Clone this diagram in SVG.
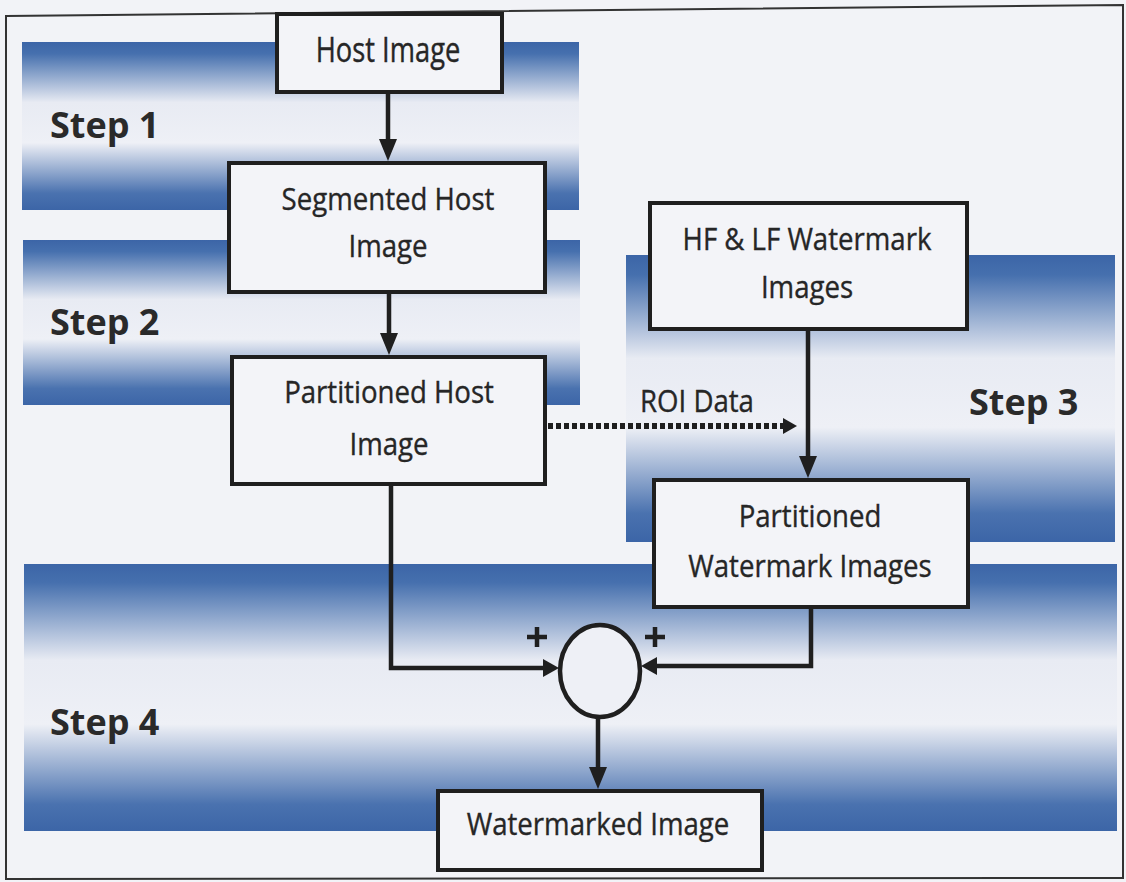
<svg xmlns="http://www.w3.org/2000/svg" width="1126" height="882" viewBox="0 0 1126 882">
  <style>
    .box { fill: #f3f4f8; stroke: #1f1f1f; stroke-width: 4; }
    .lbl { font-family: "Open Sans", "Liberation Sans", sans-serif; font-size: 30px; font-weight: 500; fill: #262626; stroke: #262626; stroke-width: 0.35; text-anchor: middle; }
    .step { font-family: "Open Sans", "Liberation Sans", sans-serif; font-size: 36px; font-weight: 700; fill: #2a2a2a; }
    .wire { fill: none; stroke: #1f1f1f; stroke-width: 4.5; }
    .dots { fill: none; stroke: #1f1f1f; stroke-width: 6; stroke-dasharray: 5 3; }
  </style>
  <defs>
    <linearGradient id="band" x1="0" y1="0" x2="0" y2="1">
      <stop offset="0" stop-color="#3c65a7"/>
      <stop offset="0.07" stop-color="#4670ae"/>
      <stop offset="0.36" stop-color="#e8ebf3"/>
      <stop offset="0.6" stop-color="#eef0f6"/>
      <stop offset="0.9" stop-color="#4a72af"/>
      <stop offset="1" stop-color="#3c65a7"/>
    </linearGradient>
    <marker id="ah" viewBox="0 0 22 18" refX="10" refY="9" markerWidth="22" markerHeight="18" markerUnits="userSpaceOnUse" orient="auto">
      <path d="M0,0 L22,9 L0,18 z" fill="#1f1f1f"/>
    </marker>
    <marker id="ahs" viewBox="0 0 16 18" refX="4" refY="9" markerWidth="16" markerHeight="18" markerUnits="userSpaceOnUse" orient="auto">
      <path d="M0,0 L16,9 L0,18 z" fill="#1f1f1f"/>
    </marker>
    <marker id="ahd" viewBox="0 0 14 16" refX="4" refY="8" markerWidth="14" markerHeight="16" markerUnits="userSpaceOnUse" orient="auto">
      <path d="M0,0 L14,8 L0,16 z" fill="#1f1f1f"/>
    </marker>
  </defs>

  <!-- paper -->
  <rect x="0" y="0" width="1126" height="882" fill="#f2f3f7"/>

  <!-- outer frame -->
  <path d="M6,16 L1123,5 L1123,878 L6,879 Z" fill="none" stroke="#333" stroke-width="2"/>

  <!-- step bands -->
  <g id="bands">
    <rect x="22" y="42" width="557" height="168" fill="url(#band)"/>
    <rect x="23" y="240" width="557" height="165" fill="url(#band)"/>
    <rect x="626" y="255" width="489" height="287" fill="url(#band)"/>
    <rect x="24" y="564" width="1093" height="267" fill="url(#band)"/>
  </g>

  <!-- step labels -->
  <g id="steps">
    <text class="step" x="50" y="138">Step 1</text>
    <text class="step" x="50" y="335">Step 2</text>
    <text class="step" x="969" y="415">Step 3</text>
    <text class="step" x="50" y="735">Step 4</text>
  </g>

  <!-- connectors -->
  <g id="connectors">
    <line class="wire" x1="388" y1="92" x2="388" y2="149" marker-end="url(#ah)"/>
    <line class="wire" x1="389" y1="292" x2="389" y2="343" marker-end="url(#ah)"/>
    <line class="wire" x1="808" y1="329" x2="808" y2="466" marker-end="url(#ah)"/>
    <line class="dots" x1="548" y1="426" x2="787" y2="426" marker-end="url(#ahd)"/>
    <path class="wire" d="M391,484 V668 H547" marker-end="url(#ahs)"/>
    <path class="wire" d="M811,607 V666 H653" marker-end="url(#ahs)"/>
    <line class="wire" x1="598" y1="717" x2="598" y2="777" marker-end="url(#ah)"/>
  </g>

  <!-- ROI label -->
  <text class="lbl" transform="translate(697 412) scale(0.92 1.04)">ROI Data</text>

  <!-- nodes -->
  <g id="host-image">
    <rect class="box" x="277" y="14" width="225" height="78"/>
    <text class="lbl" transform="translate(388 62) scale(0.91 1.14)">Host Image</text>
  </g>
  <g id="segmented-host-image">
    <rect class="box" x="229" y="163" width="316" height="129"/>
    <text class="lbl" transform="translate(388 210) scale(0.92 1.04)">Segmented Host</text>
    <text class="lbl" transform="translate(388 257) scale(0.92 1.04)">Image</text>
  </g>
  <g id="partitioned-host-image">
    <rect class="box" x="232" y="357" width="313" height="127"/>
    <text class="lbl" transform="translate(389 403) scale(0.92 1.04)">Partitioned Host</text>
    <text class="lbl" transform="translate(389 455) scale(0.92 1.04)">Image</text>
  </g>
  <g id="watermark-images">
    <rect class="box" x="650" y="203" width="317" height="126"/>
    <text class="lbl" transform="translate(807 250) scale(0.92 1.04)">HF &amp; LF Watermark</text>
    <text class="lbl" transform="translate(807 298) scale(0.92 1.04)">Images</text>
  </g>
  <g id="partitioned-watermark-images">
    <rect class="box" x="654" y="480" width="314" height="127"/>
    <text class="lbl" transform="translate(810 527) scale(0.92 1.04)">Partitioned</text>
    <text class="lbl" transform="translate(810 577) scale(0.92 1.04)">Watermark Images</text>
  </g>
  <g id="summing-junction">
    <ellipse cx="600" cy="671" rx="40" ry="46" fill="#eef0f6" stroke="#1f1f1f" stroke-width="4.5"/>
    <path d="M527,637 H547 M537,627 V647 M645,637 H665 M655,627 V647" stroke="#1f1f1f" stroke-width="4.5" fill="none"/>
  </g>
  <g id="watermarked-image">
    <rect class="box" x="438" y="791" width="324" height="79"/>
    <text class="lbl" transform="translate(598 835) scale(0.92 1.04)">Watermarked Image</text>
  </g>
</svg>
